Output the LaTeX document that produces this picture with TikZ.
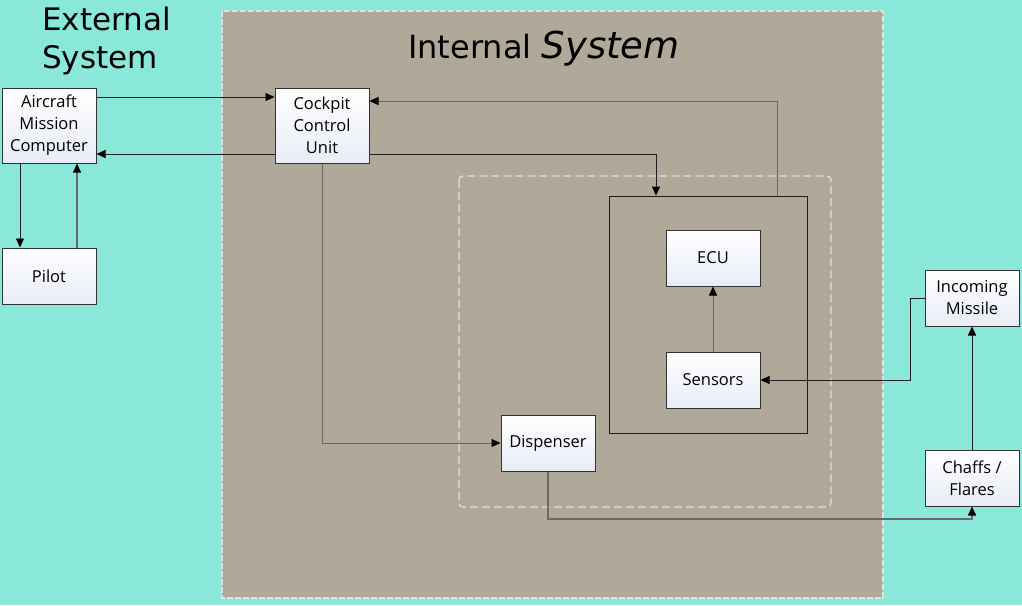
\documentclass[tikz,border=0pt]{standalone}
\usepackage{fontspec}
\setmainfont{Open Sans}
\newfontfamily\titlefont{DejaVu Sans}
\usetikzlibrary{arrows.meta}
\definecolor{bgteal}{RGB}{138,232,218}
\definecolor{intfill}{RGB}{176,169,154}
\definecolor{boxline}{RGB}{50,50,50}
\definecolor{boxbot}{RGB}{232,236,246}
\definecolor{conn}{RGB}{30,30,30}
\definecolor{conngrey}{RGB}{105,105,105}
\definecolor{dashwhite}{RGB}{225,225,225}
\tikzset{
  blk/.style={draw=boxline, line width=1pt, top color=white, bottom color=boxbot,
    minimum width=94pt, minimum height=56pt, inner sep=2pt, align=center,
    font=\fontsize{16.5}{22}\selectfont, text=black},
  tall/.style={minimum height=75pt},
  tip/.style={-{Triangle[length=9pt,width=8pt,color=black]}},
  arr/.style={draw=conn, line width=0.9pt, tip},
  greyarr/.style={draw=conngrey, line width=1.5pt, tip},
}
\begin{document}
\begin{tikzpicture}[x=1pt,y=-1pt]
\useasboundingbox (0,0) rectangle (1022,605);
\fill[bgteal] (0,0) rectangle (1022,605);
% internal system area
\path[fill=intfill, draw=dashwhite, line width=1.3pt, dash pattern=on 6pt off 2pt] (222,11) rectangle (883,598);
\node[anchor=base, font=\titlefont\fontsize{32}{38}\selectfont, inner sep=0pt] (inttitle) at (544,58)
  {Internal \fontsize{37}{38}\selectfont\itshape System};
\node[anchor=north west, align=left, inner sep=0pt, font=\titlefont\fontsize{31}{38}\selectfont] (exttitle) at (42,7)
  {External\\System};
% inner dashed region
\draw[dashwhite, line width=1.2pt, dash pattern=on 8pt off 4pt, rounded corners=4pt] (459,176) rectangle (831,507);
% processing block outline
\node[draw=conn, line width=0.9pt, minimum width=198pt, minimum height=237pt, inner sep=0pt] (proc) at (708,314.5) {};
% blocks
\node[blk, tall] (amc) at (49,125.5) {Aircraft\\Mission\\Computer};
\node[blk, tall] (ccu) at (322,125.5) {Cockpit\\Control\\Unit};
\node[blk] (pilot) at (49,276) {Pilot};
\node[blk] (ecu) at (713,258) {ECU};
\node[blk] (sens) at (713,380) {Sensors};
\node[blk] (disp) at (548,443) {Dispenser};
\node[blk] (miss) at (972,298) {Incoming\\Missile};
\node[blk] (chaff) at (972,478) {Chaffs /\\Flares};
% connectors
\draw[arr] ([yshift=28.5pt]amc.east) -- ([yshift=28.5pt]ccu.west);
\draw[arr] ([yshift=-28.5pt]ccu.west) -- ([yshift=-28.5pt]amc.east);
\draw[arr] ([xshift=-29pt]amc.south) -- ([xshift=-29pt]pilot.north);
\draw[greyarr, line width=1.3pt] ([xshift=28pt]pilot.north) -- ([xshift=28pt]amc.south);
\draw[arr] ([yshift=-28.5pt]ccu.east) -| ([xshift=-52pt]proc.north);
\draw[arr, draw=conngrey] ([xshift=69pt]proc.north) |- ([yshift=24.5pt]ccu.east);
\draw[arr, draw=conngrey] (ccu.south) |- (disp.west);
\draw[arr, draw=conngrey] (sens.north) -- (ecu.south);
\coordinate (dbend) at (760,519);
\draw[greyarr] (disp.south) |- (dbend) -| (chaff.south);
\draw[arr] (chaff.north) -- (miss.south);
\draw[arr] (miss.west) -- ++(-14,0) |- (sens.east);
\end{tikzpicture}
\end{document}
